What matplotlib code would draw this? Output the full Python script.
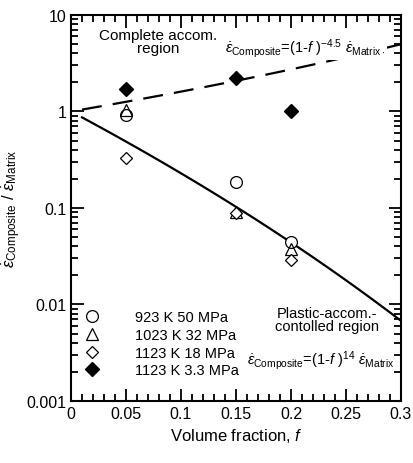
import numpy as np
import matplotlib
matplotlib.use("Agg")
import matplotlib.pyplot as plt
from matplotlib.ticker import LogLocator, NullFormatter, FixedLocator

plt.rcParams["font.family"] = ["Liberation Sans", "DejaVu Sans"]
plt.rcParams["mathtext.fontset"] = "custom"
plt.rcParams["mathtext.rm"] = "Liberation Sans"
plt.rcParams["mathtext.it"] = "Liberation Sans:italic"
plt.rcParams["mathtext.bf"] = "Liberation Sans:bold"

# data
f_pts = [0.05, 0.15, 0.2]
circle_923K = [0.91, 0.188, 0.044]
triangle_1023K = [1.03, 0.090, 0.038]
diamond_1123K_18 = [0.326, 0.089, 0.0286]
filled_1123K_33 = [1.69, 2.2, 1.0]

labels = ["923 K 50 MPa", "1023 K 32 MPa", "1123 K 18 MPa", "1123 K 3.3 MPa"]
x_ticks = [0, 0.05, 0.1, 0.15, 0.2, 0.25, 0.3]
x_ticklabels = ["0", "0.05", "0.1", "0.15", "0.2", "0.25", "0.3"]
y_ticks = [0.001, 0.01, 0.1, 1, 10]
y_ticklabels = ["0.001", "0.01", "0.1", "1", "10"]

# model curves: complete accommodation and plastic-accommodation
f_line = np.linspace(0.01, 0.3, 100)
n_complete = -4.5
n_plastic = 14

fig = plt.figure(figsize=(4.14, 4.64), dpi=100)
ax = fig.add_axes([0.1715, 0.1336, 0.797, 0.832])

ax.plot(f_line, (1 - f_line) ** n_complete, "k", lw=1.6, dashes=(9, 5))
ax.plot(f_line, (1 - f_line) ** n_plastic, "k-", lw=1.6)

ms = 8.5
ax.plot(f_pts, circle_923K, "o", mfc="white", mec="k", mew=0.9, ms=ms, ls="none", label=labels[0])
ax.plot(f_pts, triangle_1023K, "^", mfc="none", mec="k", mew=0.9, ms=ms, ls="none", label=labels[1])
ax.plot(f_pts, diamond_1123K_18, "D", mfc="white", mec="k", mew=0.9, ms=6.5, ls="none", label=labels[2])
ax.plot(f_pts, filled_1123K_33, "D", mfc="k", mec="k", ms=7.5, ls="none", label=labels[3])

ax.set_yscale("log")
ax.set_xlim(0, 0.3)
ax.set_ylim(0.001, 10)
ax.xaxis.set_major_locator(FixedLocator(x_ticks))
ax.xaxis.set_minor_locator(FixedLocator(np.arange(0, 0.301, 0.01)))
ax.set_xticklabels(x_ticklabels)
ax.yaxis.set_major_locator(FixedLocator(y_ticks))
ax.set_yticklabels(y_ticklabels)
ax.yaxis.set_minor_locator(LogLocator(base=10, subs=np.arange(2, 10)))
ax.yaxis.set_minor_formatter(NullFormatter())
ax.tick_params(which="both", direction="in", top=True, right=True, labelsize=11.5, width=1.3)
ax.tick_params(which="major", length=9)
ax.tick_params(which="minor", length=5)
for s in ax.spines.values():
    s.set_linewidth(1.5)

ax.set_xlabel(r"Volume fraction, $\it{f}$", fontsize=12)
ax.set_ylabel(r"$\dot{\varepsilon}_{\rm Composite}$ / $\dot{\varepsilon}_{\rm Matrix}$", fontsize=12, labelpad=2)

ax.text(0.079, 5.3, "Complete accom.\nregion", ha="center", va="center", fontsize=11, linespacing=0.95)
ax.text(0.213, 4.6,
        r"$\dot{\varepsilon}_{\rm Composite}$=(1-$\it{f}$ )$^{-4.5}$ $\dot{\varepsilon}_{\rm Matrix\cdot}$",
        ha="center", va="center", fontsize=10.5,
        bbox=dict(fc="white", ec="none", pad=1))
ax.text(0.233, 0.0070, "Plastic-accom.-\ncontolled region", ha="center", va="center", fontsize=10.5,
        linespacing=0.95)
ax.text(0.227, 0.0027,
        r"$\dot{\varepsilon}_{\rm Composite}$=(1-$\it{f}$ )$^{14}$ $\dot{\varepsilon}_{\rm Matrix}$",
        ha="center", va="center", fontsize=10.5)

ax.legend(loc="lower left", bbox_to_anchor=(-0.01, 0.035), frameon=False, fontsize=10.5,
          handletextpad=1.9, labelspacing=0.25, borderaxespad=0.3)

fig.savefig("out.png", dpi=100)
